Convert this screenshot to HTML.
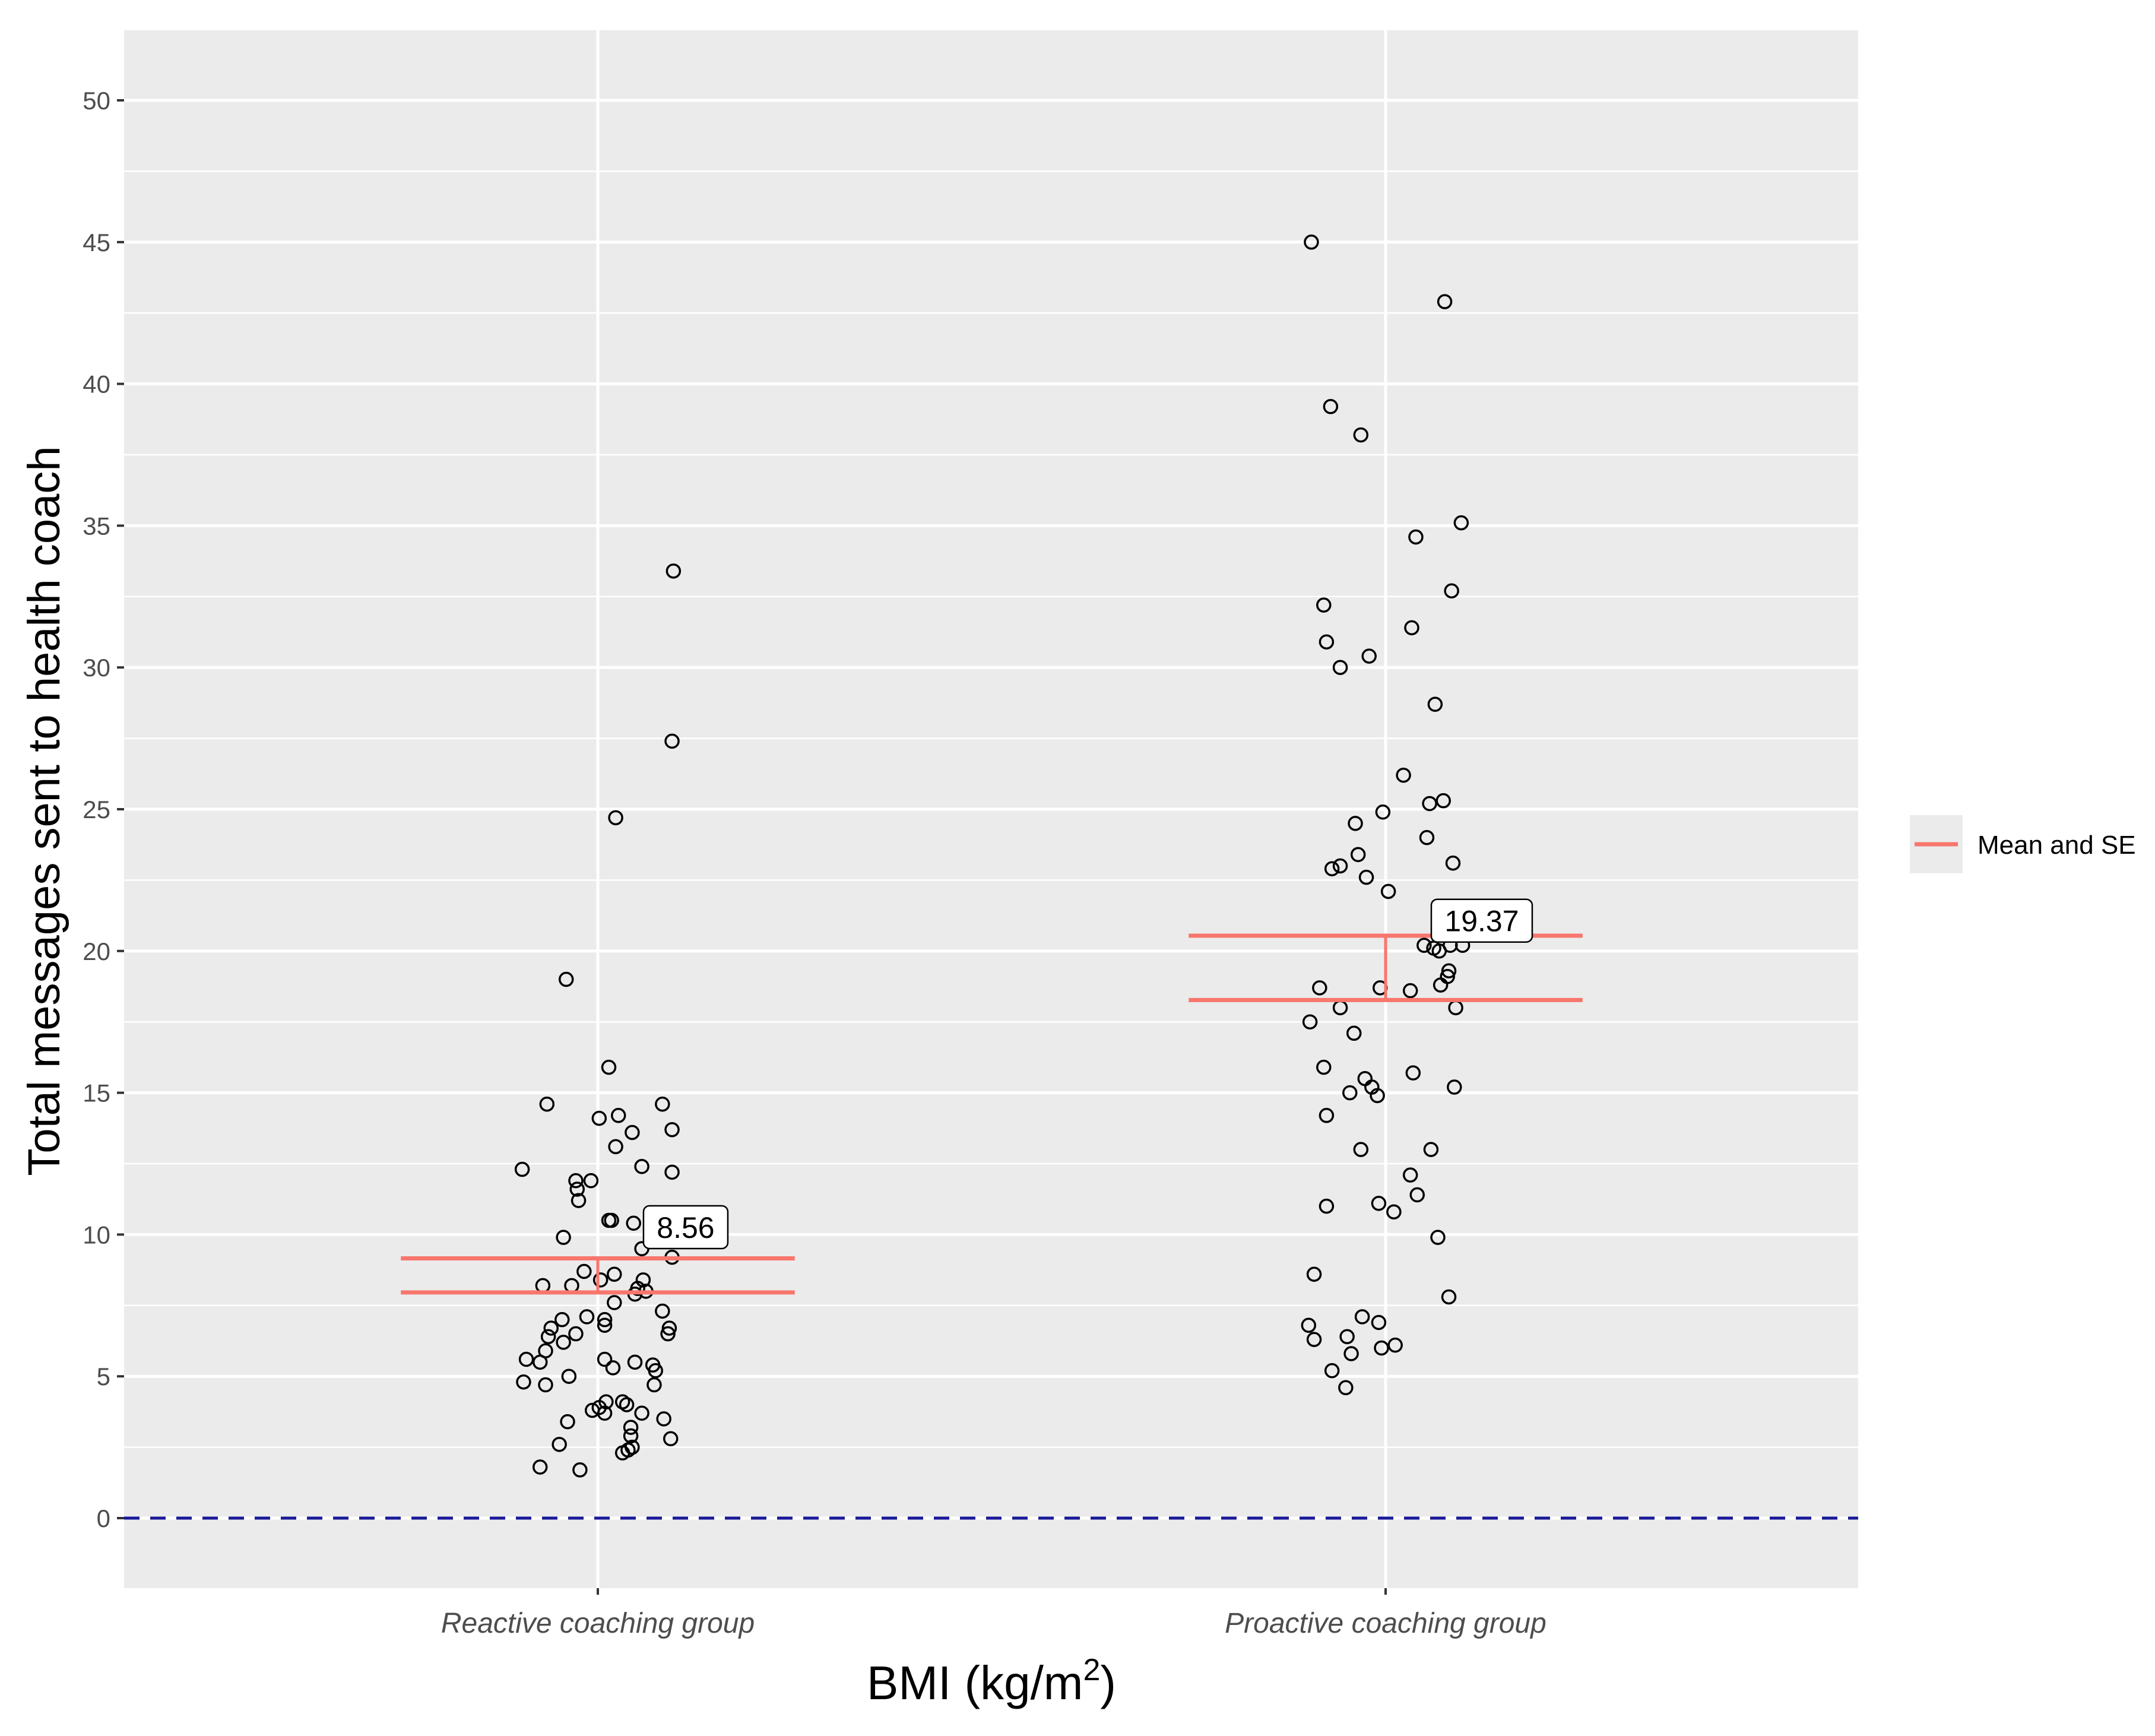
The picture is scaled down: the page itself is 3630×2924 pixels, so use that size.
<!DOCTYPE html>
<html><head><meta charset="utf-8"><style>
html,body{margin:0;padding:0;background:#fff;}
svg{display:block;font-family:"Liberation Sans",sans-serif;}
</style></head><body>
<svg id="chart" width="3630" height="2924" viewBox="0 0 3630 2924" xmlns="http://www.w3.org/2000/svg">
<rect x="0" y="0" width="3630" height="2924" fill="#fff"/>
<rect x="209" y="51" width="2921" height="2624" fill="#ebebeb"/>
<g id="grid"></g>
<g id="yaxis"></g>
<g id="xaxis"></g>
<g id="marks"></g>
<text transform="translate(100,1366) rotate(-90)" text-anchor="middle" font-size="76" fill="#000">Total messages sent to health coach</text>
<text x="1670" y="2862" text-anchor="middle" font-size="80" fill="#000">BMI (kg/m<tspan font-size="52" dy="-32">2</tspan><tspan dy="32">)</tspan></text>
<g>
<rect x="3217" y="1373" width="89" height="98" fill="#ebebeb"/>
<line x1="3225" x2="3298" y1="1422" y2="1422" stroke="#F8766D" stroke-width="7"/>
<text x="3331" y="1438" font-size="44" fill="#000">Mean and SE</text>
</g>
</svg>
<script>
const categories = ["Reactive coaching group","Proactive coaching group"];
const yTicks = [0,5,10,15,20,25,30,35,40,45,50];
const reactiveValues = [33.4,27.4,24.7,19,15.9,14.6,14.6,14.1,14.2,13.6,13.7,12.3,12.4,12.2,11.9,11.9,11.6,11.2,13.1,10.5,10.5,10.4,9.9,9.5,9.2,8.7,8.6,8.2,8.2,8.4,8.1,8.4,8.0,7.9,7.6,7.3,7.0,7.1,7.0,6.8,6.7,6.4,6.5,6.7,6.5,6.2,5.9,5.6,5.5,5.6,5.3,5.5,5.4,5.2,5.0,4.8,4.7,4.7,4.1,4.1,4.0,3.8,3.9,3.7,3.7,3.4,3.5,3.2,2.9,2.8,2.6,2.5,2.4,2.3,1.8,1.7];
const reactiveJitterPx = [490,489,448,412,443,398,482,436,450,460,489,380,467,489,419,430,420,421,448,443,445,461,410,467,489,425,447,395,416,437,464,468,470,462,447,482,409,427,440,440,401,399,419,487,486,410,397,383,393,440,446,462,475,477,414,381,397,476,441,453,456,431,436,440,467,413,483,459,459,488,407,460,457,453,393,422];
const proactiveValues = [45,42.9,39.2,38.2,35.1,34.6,32.7,32.2,31.4,30.9,30.4,30,28.7,26.2,25.2,25.3,24.9,24.5,24,23.4,23.1,23,22.9,22.6,22.1,20.2,20.1,20.0,20.2,20.2,19.3,19.1,18.8,18.7,18.7,18.6,18,18,17.5,17.1,15.9,15.7,15.5,15.2,15.2,15,14.9,14.2,13,13,12.1,11.4,11.1,11,10.8,9.9,8.6,7.8,7.1,6.9,6.8,6.3,6.4,6.0,6.1,5.8,5.2,4.6];
const proactiveJitterPx = [954,1051,968,990,1063,1030,1056,963,1027,965,996,975,1044,1021,1040,1050,1006,986,1038,988,1057,975,969,994,1010,1036,1043,1047,1064,1055,1054,1053,1048,960,1004,1026,975,1059,953,985,963,1028,993,998,1058,982,1002,965,990,1041,1026,1031,1003,965,1014,1046,956,1054,991,1003,952,956,980,1005,1015,983,969,979];
const means = [8.56,19.37];
const seUpper = [9.16,20.54];
const seLower = [7.96,18.27];
const meanLabels = ["8.56","19.37"];

const NS="http://www.w3.org/2000/svg";
const PL=209, PR=3130, PT=51, PB=2675;
const Y0=2557, YPER=2388/50;
function yS(v){return Y0 - v*YPER;}
const CAT0=1007, CATSTEP=1327;
function xS(c){return CAT0 + c*CATSTEP;}
function mk(tag, parent, attrs){const e=document.createElementNS(NS,tag);for(const k in attrs)e.setAttribute(k,attrs[k]);parent.appendChild(e);return e;}
const grid=document.getElementById('grid'), yax=document.getElementById('yaxis'), xax=document.getElementById('xaxis'), marks=document.getElementById('marks');

for(let i=0;i<yTicks.length+1;i++){
  const v=yTicks[0]-2.5+i*5;
  const y=yS(v); if(y<PT||y>PB) continue;
  const l=mk('line',grid,{x1:PL,x2:PR,y1:y,y2:y,stroke:'#fff','stroke-width':2.5});
  
  
}
yTicks.forEach(v=>{
  const y=yS(v);
  const l=mk('line',grid,{x1:PL,x2:PR,y1:y,y2:y,stroke:'#fff','stroke-width':5});
  
  
  const t=mk('line',yax,{x1:197,x2:PL,y1:y,y2:y,stroke:'#333','stroke-width':4});
  
  
  const tx=mk('text',yax,{x:186,y:y+15,'text-anchor':'end','font-size':42,fill:'#4d4d4d'});
  tx.textContent=v;
  
  
});
categories.forEach((c,i)=>{
  const x=xS(i);
  const l=mk('line',grid,{x1:x,x2:x,y1:PT,y2:PB,stroke:'#fff','stroke-width':5});
  
  
  const t=mk('line',xax,{x1:x,x2:x,y1:PB,y2:PB+11,stroke:'#333','stroke-width':4});
  
  
  const tx=mk('text',xax,{x:x,y:2750,'text-anchor':'middle','font-size':48,'font-style':'italic',fill:'#4d4d4d'});
  tx.textContent=c;
  
  
});
const zl=mk('line',marks,{x1:PL,x2:PR,y1:yS(0),y2:yS(0),stroke:'#1a1a9a','stroke-width':5,'stroke-dasharray':'26 18'});



function drawPoints(vals, jit, ci, centerDisp){
  vals.forEach((v,k)=>{
    const off=(jit[k]-centerDisp)/573;
    const c=mk('circle',marks,{cx:xS(ci+off),cy:yS(v),r:11,fill:'none',stroke:'#000','stroke-width':3.5});
    
    
  });
}
drawPoints(reactiveValues, reactiveJitterPx, 0, 435);
drawPoints(proactiveValues, proactiveJitterPx, 1, 1008);

means.forEach((m,i)=>{
  const x1=xS(i-0.25), x2=xS(i+0.25), xc=xS(i);
  const u=mk('line',marks,{x1:x1,x2:x2,y1:yS(seUpper[i]),y2:yS(seUpper[i]),stroke:'#F8766D','stroke-width':7});
  
  
  const lo=mk('line',marks,{x1:x1,x2:x2,y1:yS(seLower[i]),y2:yS(seLower[i]),stroke:'#F8766D','stroke-width':7});
  
  
  const vt=mk('line',marks,{x1:xc,x2:xc,y1:yS(seUpper[i]),y2:yS(seLower[i]),stroke:'#F8766D','stroke-width':5});
  
  
  const lx=xS(i+0.058), ly=yS(m+1.7);
  const w=meanLabels[i].length*28+30;
  const r=mk('rect',marks,{x:lx,y:ly-36,width:w,height:72,rx:10,fill:'#fff',stroke:'#000','stroke-width':2.5});
  
  
  const t=mk('text',marks,{x:lx+w/2,y:ly+18,'text-anchor':'middle','font-size':50,fill:'#000'});
  t.textContent=meanLabels[i];
  
  
});
</script>
</body></html>
